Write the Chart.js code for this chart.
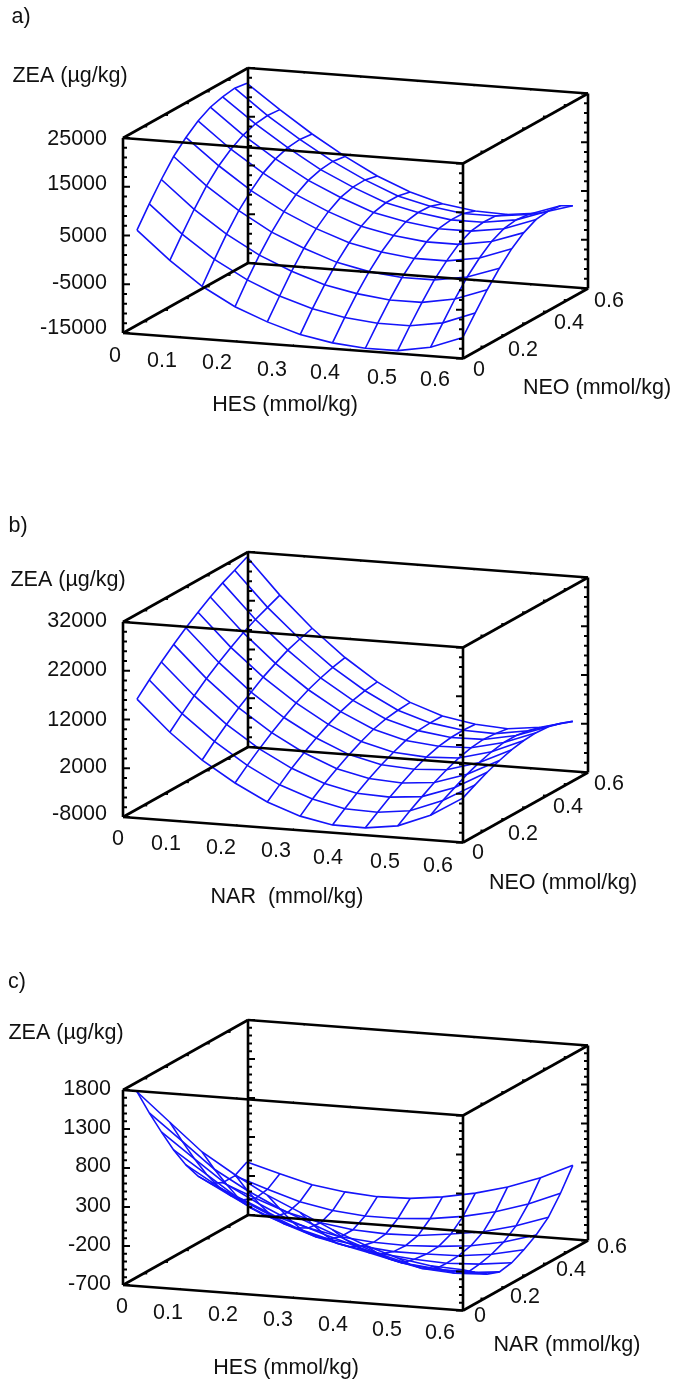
<!DOCTYPE html>
<html lang="en">
<head>
    <meta charset="UTF-8">
    <title>ZEA response surfaces</title>
    <script src="https://cdn.jsdelivr.net/npm/chart.js@4.4.0/dist/chart.umd.min.js"></script>
    <style>
        body { margin: 0; background: #fff; }
        /* the reference is a soft scan */
        canvas { display: block; filter: blur(0.45px); }
    </style>
</head>
<body>
    <canvas id="chart" width="674" height="1382"></canvas>

    <script>
        // grid the surfaces are sampled on (mmol/kg)
        const gridFront = [0.007, 0.065, 0.122, 0.18, 0.237, 0.295, 0.352, 0.41, 0.467, 0.525, 0.582];
        const gridDepth = [0.048, 0.107, 0.165, 0.224, 0.283, 0.341, 0.4, 0.459, 0.517, 0.576];

        // ZEA (ug/kg), one row per gridDepth value
        const zeaA = [
            [5000, -700, -5500, -9200, -11800, -13900, -15100, -15700, -15700, -14500, -12000],
            [9000, 3300, -1400, -5100, -7900, -10000, -11300, -12000, -12000, -10900, -8400],
            [12600, 7000, 2400, -1400, -4200, -6500, -7800, -8600, -8600, -7400, -5000],
            [15900, 10400, 5800, 1900, -900, -3300, -4700, -5400, -5400, -4300, -2000],
            [18400, 13100, 8500, 4700, 1700, -700, -2100, -2900, -2900, -1800, 600],
            [20400, 15100, 10700, 6800, 3800, 1300, -100, -900, -900, 200, 2500],
            [21800, 16600, 12200, 8300, 5300, 2700, 1300, 400, 400, 1400, 3800],
            [22500, 17500, 13100, 9100, 6000, 3300, 1800, 800, 800, 1800, 4100],
            [22900, 17800, 13400, 9400, 6100, 3300, 1700, 700, 700, 1500, 3800],
            [22500, 17600, 13100, 9000, 5500, 2700, 800, -200, -400, 400, 2400]
        ];
        const zeaB = [
            [15100, 8800, 3600, -600, -4000, -6400, -7700, -7800, -6900, -4200, -200],
            [17600, 11200, 6000, 1600, -1900, -4300, -5800, -6000, -5200, -2600, 1100],
            [19900, 13500, 8100, 3600, 100, -2500, -4000, -4300, -3700, -1300, 2300],
            [22100, 15600, 10100, 5500, 1900, -900, -2400, -2800, -2200, 0, 3300],
            [24100, 17500, 11900, 7200, 3500, 600, -1000, -1400, -1000, 1000, 4100],
            [25900, 19200, 13600, 8800, 4900, 1900, 200, -300, 0, 1800, 4600],
            [27600, 20800, 15000, 10100, 6100, 3000, 1200, 500, 700, 2300, 4800],
            [29100, 22100, 16300, 11100, 7000, 3700, 1800, 900, 1000, 2300, 4600],
            [30300, 23200, 17200, 11900, 7600, 4100, 2000, 1000, 800, 1900, 3900],
            [31600, 24300, 18000, 12500, 8000, 4300, 2000, 800, 400, 1200, 2900]
        ];
        const zeaC = [
            [1710, 1350, 1000, 740, 510, 320, 130, -40, -170, -240, -260],
            [1350, 1020, 690, 450, 250, 80, -80, -230, -340, -380, -380],
            [1020, 710, 410, 190, 0, -140, -260, -390, -480, -510, -490],
            [700, 420, 140, -50, -220, -340, -430, -530, -580, -590, -550],
            [420, 170, -70, -240, -380, -470, -530, -570, -590, -570, -520],
            [190, -30, -240, -380, -490, -550, -590, -590, -580, -530, -440],
            [10, -170, -350, -470, -550, -590, -600, -580, -540, -460, -340],
            [-70, -240, -390, -490, -550, -570, -560, -510, -450, -340, -200],
            [-70, -210, -340, -420, -460, -460, -430, -370, -280, -150, 20],
            [20, -100, -210, -270, -300, -290, -240, -160, -50, 100, 290]
        ];

        // tick values
        const frontTicks = [0, 0.1, 0.2, 0.3, 0.4, 0.5, 0.6];
        const depthTicks = [0, 0.2, 0.4, 0.6];
        const zTicksA = [-15000, -5000, 5000, 15000, 25000];
        const zTicksB = [-8000, 2000, 12000, 22000, 32000];
        const zTicksC = [-700, -200, 300, 800, 1300, 1800];

        const axisMax = 0.6;
        const font = '21.5px "Liberation Sans"';

        // where each box sits on the page, and where its text goes
        const panels = [
            {
                ox: 123, oy: 333, zea: zeaA, zTicks: zTicksA, zMinor: 2000,
                tag: ['a)', 21, 17], zeaTitle: [70, 76],
                zLabelX: 107, zLabelY: [328, 283, 236, 184, 139],
                frontLabelPos: [[115, 356], [162, 361], [217, 363], [272, 370], [325, 373], [382, 378], [435, 380]],
                depthLabelPos: [[479, 370], [523, 350], [569, 323], [609, 301]],
                frontTitle: ['HES (mmol/kg)', 285, 405], depthTitle: ['NEO (mmol/kg)', 597, 388]
            },
            {
                ox: 123, oy: 817, zea: zeaB, zTicks: zTicksB, zMinor: 2000,
                tag: ['b)', 18, 526], zeaTitle: [68, 580],
                zLabelX: 107, zLabelY: [814, 767, 720, 670, 621],
                frontLabelPos: [[118, 839], [166, 844], [221, 848], [276, 851], [328, 858], [385, 862], [438, 866]],
                depthLabelPos: [[478, 853], [523, 834], [568, 807], [609, 784]],
                frontTitle: ['NAR  (mmol/kg)', 287, 897], depthTitle: ['NEO (mmol/kg)', 563, 883]
            },
            {
                ox: 123, oy: 1285, zea: zeaC, zTicks: zTicksC, zMinor: 100,
                tag: ['c)', 17, 982], zeaTitle: [66, 1033],
                zLabelX: 111, zLabelY: [1284, 1245, 1206, 1166, 1128, 1089],
                frontLabelPos: [[122, 1307], [168, 1313], [223, 1315], [278, 1320], [333, 1325], [387, 1330], [440, 1333]],
                depthLabelPos: [[480, 1316], [525, 1297], [571, 1270], [612, 1247]],
                frontTitle: ['HES (mmol/kg)', 286, 1368], depthTitle: ['NAR (mmol/kg)', 567, 1345]
            }
        ];

        // oblique projection of the plot box onto the page
        function project(p, a, b, z) {
            const zMin = p.zTicks[0];
            const zMax = p.zTicks[p.zTicks.length - 1];
            const u = a / axisMax;
            const v = b / axisMax;
            return {
                x: p.ox + 340 * u + 125 * v,
                y: p.oy + 25.5 * u - 70 * v - 195 * (z - zMin) / (zMax - zMin)
            };
        }

        const datasets = [];

        function addLine(points, color, width) {
            datasets.push({
                data: points,
                showLine: true,
                borderColor: color,
                borderWidth: width,
                pointRadius: 0,
                tension: 0,
                spanGaps: false
            });
        }

        panels.forEach(p => {
            const zMin = p.zTicks[0];
            const zMax = p.zTicks[p.zTicks.length - 1];
            const m = axisMax;

            // box edges
            const edges = [
                [[0, 0, zMin], [m, 0, zMin]], [[m, 0, zMin], [m, m, zMin]],
                [[m, m, zMin], [0, m, zMin]], [[0, m, zMin], [0, 0, zMin]],
                [[0, 0, zMax], [m, 0, zMax]], [[m, 0, zMax], [m, m, zMax]],
                [[m, m, zMax], [0, m, zMax]], [[0, m, zMax], [0, 0, zMax]],
                [[0, 0, zMin], [0, 0, zMax]], [[m, 0, zMin], [m, 0, zMax]],
                [[m, m, zMin], [m, m, zMax]], [[0, m, zMin], [0, m, zMax]]
            ];
            edges.forEach(e => {
                addLine(e.map(c => project(p, c[0], c[1], c[2])), '#000', 2.6);
            });

            // tick marks on the four uprights and the floor/roof edges
            const ticks = [];
            const gap = { x: NaN, y: NaN };
            const uprights = [[0, 0, 1], [m, 0, -1], [m, m, -1], [0, m, 1]];
            uprights.forEach(([a, b, dir]) => {
                for (let z = zMin; z <= zMax; z += p.zMinor) {
                    const major = p.zTicks.includes(z);
                    const s = project(p, a, b, z);
                    ticks.push(s, { x: s.x + dir * (major ? 7 : 4), y: s.y }, gap);
                }
            });
            [zMin, zMax].forEach(z => {
                frontTicks.forEach(t => {
                    [[0, 0.006], [m, -0.006]].forEach(([b, d]) => {
                        ticks.push(project(p, t, b, z), project(p, t, b + d, z), gap);
                    });
                });
                [0.1, 0.2, 0.3, 0.4, 0.5].forEach(t => {
                    [[0, 0.006], [m, -0.006]].forEach(([a, d]) => {
                        ticks.push(project(p, a, t, z), project(p, a + d, t, z), gap);
                    });
                });
            });
            addLine(ticks, '#000', 2);
        });

        // wireframe goes last so the box is painted over it
        panels.forEach(p => {
            const blue = 'rgb(20,20,250)';
            p.zea.forEach((row, j) => {
                addLine(row.map((z, i) => project(p, gridFront[i], gridDepth[j], z)), blue, 1.6);
            });
            gridFront.forEach((a, i) => {
                addLine(gridDepth.map((b, j) => project(p, a, b, p.zea[j][i])), blue, 1.6);
            });
        });

        const textPlugin = {
            id: 'panelText',
            afterDatasetsDraw(chart) {
                const c = chart.ctx;
                const sx = chart.scales.x;
                const sy = chart.scales.y;
                const put = (t, x, y, align) => {
                    c.textAlign = align || 'center';
                    c.fillText(t, sx.getPixelForValue(x), sy.getPixelForValue(y));
                };
                c.save();
                c.font = font;
                c.fillStyle = '#111';
                c.textBaseline = 'middle';
                panels.forEach(p => {
                    put(p.tag[0], p.tag[1], p.tag[2]);
                    put('ZEA (µg/kg)', p.zeaTitle[0], p.zeaTitle[1]);
                    p.zTicks.forEach((t, i) => put(String(t), p.zLabelX, p.zLabelY[i], 'right'));
                    frontTicks.forEach((t, i) => put(String(t), p.frontLabelPos[i][0], p.frontLabelPos[i][1]));
                    depthTicks.forEach((t, i) => put(String(t), p.depthLabelPos[i][0], p.depthLabelPos[i][1]));
                    put(p.frontTitle[0], p.frontTitle[1], p.frontTitle[2]);
                    put(p.depthTitle[0], p.depthTitle[1], p.depthTitle[2]);
                });
                c.restore();
            }
        };

        new Chart(document.getElementById('chart').getContext('2d'), {
            type: 'scatter',
            data: { datasets: datasets },
            plugins: [textPlugin],
            options: {
                responsive: false,
                animation: false,
                layout: { padding: 0 },
                plugins: { legend: { display: false }, tooltip: { enabled: false } },
                scales: {
                    x: { type: 'linear', min: 0, max: 674, display: false },
                    y: { type: 'linear', min: 0, max: 1382, reverse: true, display: false }
                }
            }
        });
    </script>
</body>
</html>
